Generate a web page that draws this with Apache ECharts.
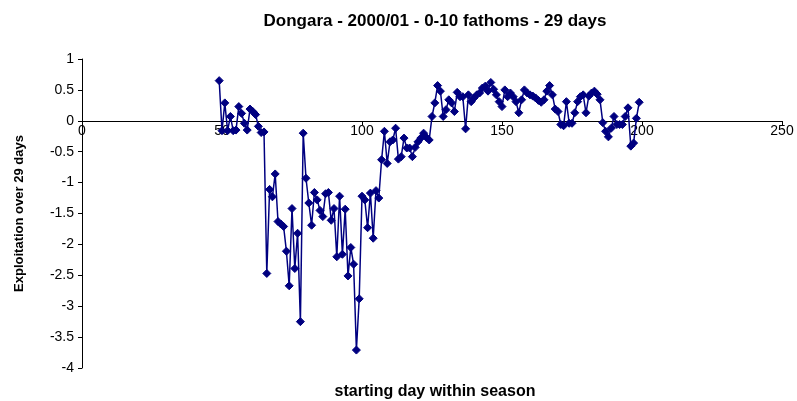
<!DOCTYPE html>
<html>
<head>
<meta charset="utf-8">
<script src="https://cdn.jsdelivr.net/npm/echarts@6/dist/echarts.min.js"></script>
<style>
html, body { margin: 0; padding: 0; background: #fff; }
#chart { width: 797px; height: 401px; }
</style>
</head>
<body>
<div id="chart"></div>
<script>
// starting day within season
var days = [
    49, 50, 51, 52, 53, 54, 55, 56, 57, 58, 59, 60, 61, 62, 63, 64, 65,
    66, 67, 68, 69, 70, 71, 72, 73, 74, 75, 76, 77, 78, 79, 80, 81, 82,
    83, 84, 85, 86, 87, 88, 89, 90, 91, 92, 93, 94, 95, 96, 97, 98, 99,
    100, 101, 102, 103, 104, 105, 106, 107, 108, 109, 110, 111, 112, 113, 114, 115,
    116, 117, 118, 119, 120, 121, 122, 123, 124, 125, 126, 127, 128, 129, 130, 131,
    132, 133, 134, 135, 136, 137, 138, 139, 140, 141, 142, 143, 144, 145, 146, 147,
    148, 149, 150, 151, 152, 153, 154, 155, 156, 157, 158, 159, 160, 161, 162, 163,
    164, 165, 166, 167, 168, 169, 170, 171, 172, 173, 174, 175, 176, 177, 178, 179,
    180, 181, 182, 183, 184, 185, 186, 187, 188, 189, 190, 191, 192, 193, 194, 195,
    196, 197, 198, 199
];
// exploitation over 29 days
var exploitation = [
    0.65, -0.16, 0.29, -0.16, 0.07, -0.16, -0.15, 0.23, 0.12, -0.04, -0.15, 0.19, 0.15, 0.10, -0.09, -0.19, -0.18,
    -2.47, -1.11, -1.23, -0.86, -1.63, -1.67, -1.71, -2.11, -2.67, -1.42, -2.39, -1.82, -3.25, -0.20, -0.93, -1.33, -1.69,
    -1.16, -1.28, -1.45, -1.55, -1.18, -1.16, -1.61, -1.42, -2.20, -1.22, -2.16, -1.43, -2.51, -2.05, -2.32, -3.71, -2.88,
    -1.22, -1.28, -1.73, -1.17, -1.90, -1.13, -1.25, -0.63, -0.17, -0.69, -0.34, -0.31, -0.12, -0.62, -0.58, -0.28,
    -0.44, -0.44, -0.58, -0.43, -0.34, -0.28, -0.20, -0.27, -0.31, 0.07, 0.29, 0.57, 0.48, 0.07, 0.18, 0.34,
    0.29, 0.15, 0.46, 0.39, 0.39, -0.13, 0.42, 0.31, 0.37, 0.42, 0.45, 0.53, 0.56, 0.48, 0.62, 0.51,
    0.42, 0.31, 0.23, 0.50, 0.39, 0.45, 0.39, 0.31, 0.13, 0.34, 0.50, 0.45, 0.42, 0.40, 0.37, 0.33,
    0.30, 0.34, 0.48, 0.57, 0.42, 0.19, 0.15, -0.06, -0.08, 0.31, -0.04, -0.04, 0.13, 0.31, 0.39, 0.42,
    0.13, 0.40, 0.45, 0.48, 0.43, 0.34, -0.03, -0.17, -0.26, -0.12, 0.07, -0.06, -0.06, -0.06, 0.07, 0.21,
    -0.41, -0.36, 0.04, 0.30
];

var chart = echarts.init(document.getElementById('chart'));

var points = days.map(function (d, i) { return [d, exploitation[i]]; });

var option = {
    backgroundColor: '#fff',
    animation: false,
    title: [{
        text: 'Dongara - 2000/01 - 0-10 fathoms - 29 days',
        left: 430,
        top: 8,
        textAlign: 'center',
        textStyle: { fontFamily: 'Liberation Sans', fontSize: 17, fontWeight: 'bold', color: '#000' }
    }, {
        text: 'starting day within season',
        left: 430,
        top: 379,
        textAlign: 'center',
        textStyle: { fontFamily: 'Liberation Sans', fontSize: 16, fontWeight: 'bold', color: '#000' }
    }],
    grid: { left: 82, right: 15, top: 59, bottom: 33 },
    xAxis: {
        type: 'value',
        min: 0,
        max: 250,
        interval: 50,
        // axis sits on y = 0, labels follow it
        offset: -247,
        axisLine: { onZero: false, lineStyle: { color: '#000', width: 1 } },
        axisTick: { length: 4, lineStyle: { color: '#000' } },
        axisLabel: { color: '#000', fontFamily: 'Liberation Sans', fontSize: 14, margin: 3 },
        splitLine: { show: false }
    },
    yAxis: {
        type: 'value',
        min: -4,
        max: 1,
        interval: 0.5,
        name: 'Exploitation over 29 days',
        nameLocation: 'middle',
        nameGap: 56,
        nameTextStyle: { fontFamily: 'Liberation Sans', fontSize: 13, fontWeight: 'bold', color: '#000' },
        axisLine: { show: true, onZero: false, lineStyle: { color: '#000', width: 1 } },
        axisTick: { show: true, length: 4, lineStyle: { color: '#000' } },
        axisLabel: { color: '#000', fontFamily: 'Liberation Sans', fontSize: 14, margin: 8 },
        splitLine: { show: false }
    },
    series: [{
        type: 'line',
        data: points,
        symbol: 'diamond',
        symbolSize: 8,
        showAllSymbol: true,
        lineStyle: { color: '#000080', width: 1.5 },
        itemStyle: { color: '#000080', borderColor: '#000080' }
    }]
};

chart.setOption(option);
</script>
</body>
</html>
